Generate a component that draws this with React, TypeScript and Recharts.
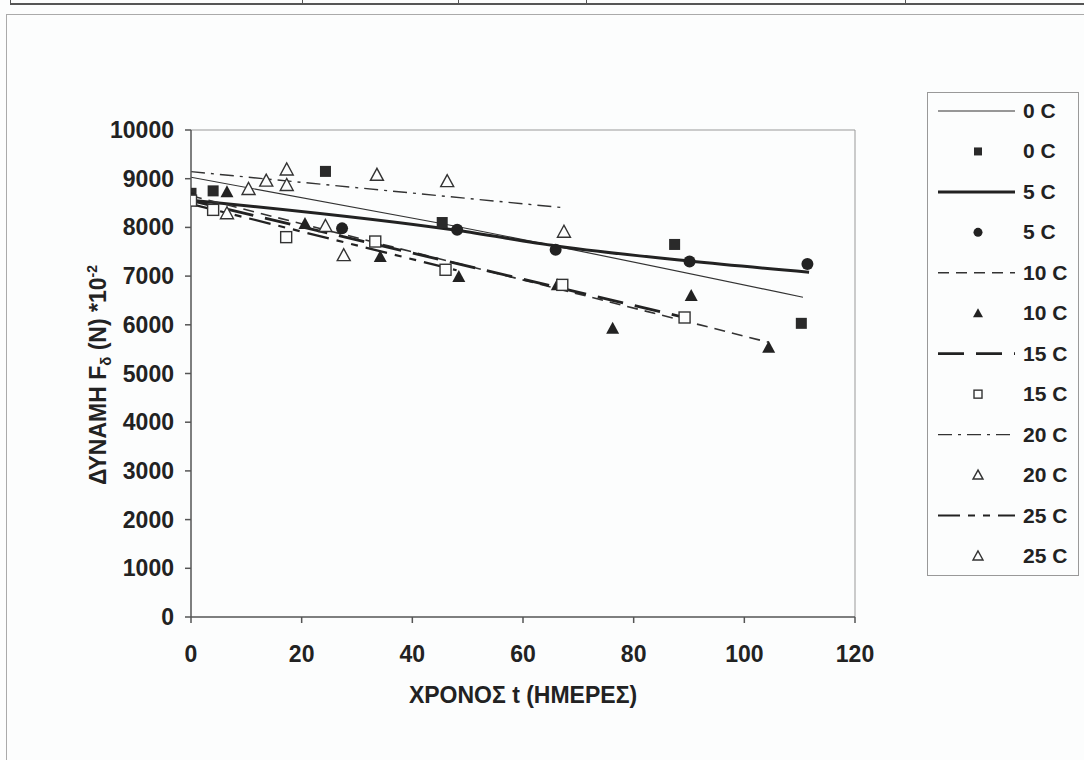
import React from 'react';
import { ComposedChart, Line, Scatter, XAxis, YAxis, ReferenceLine, Label } from 'recharts';

// axis ticks
const xTicks = [0, 20, 40, 60, 80, 100, 120];
const yTicks = [0, 1000, 2000, 3000, 4000, 5000, 6000, 7000, 8000, 9000, 10000];

// measured points (days, force *10^-2 N)
const days0C = [0, 4, 24.3, 45.4, 87.4, 110.3];
const force0C = [8700, 8750, 9150, 8100, 7650, 6030];
const days5C = [0, 27.3, 48.1, 65.9, 90.1, 111.4];
const force5C = [8600, 7980, 7950, 7540, 7300, 7250];
const days10C = [0, 6.5, 20.6, 34.2, 48.4, 66.2, 76.2, 90.4, 104.4];
const force10C = [8550, 8730, 8080, 7400, 6990, 6820, 5930, 6600, 5540];
const days15C = [0, 4, 17.2, 33.3, 46, 67.1, 89.2];
const force15C = [8550, 8360, 7800, 7710, 7130, 6820, 6150];
const days20C = [10.4, 13.6, 17.3, 33.6, 46.3, 67.4];
const force20C = [8790, 8960, 9190, 9080, 8950, 7910];
const days25C = [6.5, 17.3, 24.3, 27.6];
const force25C = [8290, 8870, 8030, 7430];

// trend lines
const trend0CDays = [0, 45, 110.6];
const trend0CForce = [9030, 8085, 6565];
const trend5CDays = [0, 48, 66, 90, 111.7];
const trend5CForce = [8560, 7940, 7620, 7310, 7080];
const trend10CDays = [0, 104.4];
const trend10CForce = [8650, 5640];
const trend15CDays = [0, 89.2];
const trend15CForce = [8550, 6150];
const trend20CDays = [0, 66.8];
const trend20CForce = [9145, 8410];
const trend25CDays = [0, 48];
const trend25CForce = [8480, 7120];

const legendNames = ['0 C', '0 C', '5 C', '5 C', '10 C', '10 C', '15 C', '15 C', '20 C', '20 C', '25 C', '25 C'];

const toPoints = (xs: number[], ys: number[]) => xs.map((x, i) => ({ x, y: ys[i] }));

const FONT = '"Liberation Sans", Arial, sans-serif';
const INK = '#222';

const lineStyles = [
  { stroke: '#333', strokeWidth: 1.2, dash: undefined },
  { stroke: '#222', strokeWidth: 3, dash: undefined },
  { stroke: '#333', strokeWidth: 1.6, dash: '11 7' },
  { stroke: '#222', strokeWidth: 2.8, dash: '26 12' },
  { stroke: '#333', strokeWidth: 1.4, dash: '14 6 3 6' },
  { stroke: '#222', strokeWidth: 2.2, dash: '22 8 7 8 7 8' },
];

type Kind = 'square' | 'circle' | 'triangle' | 'openSquare' | 'openTriangle';
const kinds: Kind[] = ['square', 'circle', 'triangle', 'openSquare', 'openTriangle', 'openTriangle'];

const marker = (kind: Kind, cx: number, cy: number, s: number) => {
  const h = s / 2;
  if (kind === 'square') return <rect x={cx - h} y={cy - h} width={s} height={s} fill="#2a2a2a" />;
  if (kind === 'circle') return <circle cx={cx} cy={cy} r={h + 0.5} fill="#222" />;
  if (kind === 'openSquare')
    return <rect x={cx - h} y={cy - h} width={s} height={s} fill="#fcfdfd" stroke="#333" strokeWidth={1.4} />;
  const pts = `${cx},${cy - h - 1} ${cx - h - 1},${cy + h} ${cx + h + 1},${cy + h}`;
  if (kind === 'triangle') return <polygon points={pts} fill="#222" />;
  return <polygon points={pts} fill="#fcfdfd" stroke="#333" strokeWidth={1.4} />;
};

const shapeFor = (kind: Kind) => (props: any) => <g>{marker(kind, props.cx, props.cy, 11)}</g>;

const YTick = (props: any) => {
  const { x, y, payload } = props;
  return (
    <text x={x - 9} y={y} dy={8} textAnchor="end" fontSize={23} fontWeight="bold" fill={INK} fontFamily={FONT}>
      {payload.value}
    </text>
  );
};

const XTick = (props: any) => {
  const { x, y, payload } = props;
  return (
    <text x={x} y={y} dy={37} textAnchor="middle" fontSize={23} fontWeight="bold" fill={INK} fontFamily={FONT}>
      {payload.value}
    </text>
  );
};

const XTitle = () => (
  <text x={523} y={703} textAnchor="middle" fontSize={23} fontWeight="bold" fill={INK} fontFamily={FONT}>
    ΧΡΟΝΟΣ t (ΗΜΕΡΕΣ)
  </text>
);

const YTitle = () => (
  <text
    transform="translate(106,375) rotate(-90)"
    textAnchor="middle"
    fontSize={23}
    fontWeight="bold"
    fill={INK}
    fontFamily={FONT}
  >
    ΔΥΝΑΜΗ F<tspan fontSize={15} dy={5}>δ</tspan>
    <tspan dy={-5}> (N) *10</tspan>
    <tspan fontSize={14} dy={-9}>-2</tspan>
  </text>
);

const trends = [
  toPoints(trend0CDays, trend0CForce),
  toPoints(trend5CDays, trend5CForce),
  toPoints(trend10CDays, trend10CForce),
  toPoints(trend15CDays, trend15CForce),
  toPoints(trend20CDays, trend20CForce),
  toPoints(trend25CDays, trend25CForce),
];

const measured = [
  toPoints(days0C, force0C),
  toPoints(days5C, force5C),
  toPoints(days10C, force10C),
  toPoints(days15C, force15C),
  toPoints(days20C, force20C),
  toPoints(days25C, force25C),
];

const LegendBox = () => {
  const top = 92;
  const rowY = (i: number) => 110 + 40.45 * i - top;
  return (
    <div
      style={{
        position: 'absolute',
        left: 927,
        top,
        width: 150,
        height: 482,
        border: '1px solid #999',
        background: '#fcfdfd',
      }}
    >
      <svg width={150} height={482}>
        {legendNames.map((name, i) => {
          const y = rowY(i);
          const series = Math.floor(i / 2);
          const st = lineStyles[series];
          return (
            <g key={i}>
              {i % 2 === 0 ? (
                <line
                  x1={10}
                  x2={87}
                  y1={y}
                  y2={y}
                  stroke={st.stroke}
                  strokeWidth={st.strokeWidth}
                  strokeDasharray={st.dash}
                />
              ) : (
                marker(kinds[series], 50, y, 8)
              )}
              <text x={95} y={y + 7} fontSize={21} fontWeight="bold" fill={INK} fontFamily={FONT}>
                {name}
              </text>
            </g>
          );
        })}
      </svg>
    </div>
  );
};

export default function App() {
  return (
    <div
      style={{
        position: 'absolute',
        left: 0,
        top: 0,
        width: 1084,
        height: 760,
        background: '#fcfdfd',
        overflow: 'hidden',
        fontFamily: FONT,
      }}
    >
      {/* scanned page frame */}
      <div style={{ position: 'absolute', left: 10, top: 0, width: 1074, height: 3, borderBottom: '2px solid #555', borderLeft: '1px solid #555' }} />
      {[302, 458, 586, 905].map((x) => (
        <div key={x} style={{ position: 'absolute', left: x, top: 0, width: 1, height: 4, background: '#555' }} />
      ))}
      <div style={{ position: 'absolute', left: 6, top: 14, width: 1078, height: 1, background: '#aaa' }} />
      <div style={{ position: 'absolute', left: 6, top: 14, width: 1, height: 746, background: '#aaa' }} />

      <div style={{ position: 'absolute', left: 0, top: 0 }}>
        <ComposedChart width={1084} height={760} margin={{ top: 130, right: 229, bottom: 103, left: 111 }}>
          <XAxis
            dataKey="x"
            type="number"
            domain={[0, 120]}
            ticks={xTicks}
            allowDataOverflow
            height={40}
            stroke="#555"
            strokeWidth={1.5}
            tickSize={6}
            tick={<XTick />}
          >
            <Label content={<XTitle />} />
          </XAxis>
          <YAxis
            dataKey="y"
            type="number"
            domain={[0, 10000]}
            ticks={yTicks}
            allowDataOverflow
            width={80}
            stroke="#555"
            strokeWidth={1.5}
            tickSize={6}
            tick={<YTick />}
          >
            <Label content={<YTitle />} />
          </YAxis>
          <ReferenceLine y={10000} stroke="#999" strokeWidth={1} />
          <ReferenceLine x={120} stroke="#999" strokeWidth={1} />
          {trends.map((pts, i) => (
            <Line
              key={`t${i}`}
              data={pts}
              dataKey="y"
              type="monotone"
              stroke={lineStyles[i].stroke}
              strokeWidth={lineStyles[i].strokeWidth}
              strokeDasharray={lineStyles[i].dash}
              dot={false}
              activeDot={false}
              isAnimationActive={false}
            />
          ))}
          {measured.map((pts, i) => (
            <Scatter key={`m${i}`} data={pts} dataKey="y" shape={shapeFor(kinds[i])} isAnimationActive={false} />
          ))}
        </ComposedChart>
      </div>
      <LegendBox />
    </div>
  );
}
